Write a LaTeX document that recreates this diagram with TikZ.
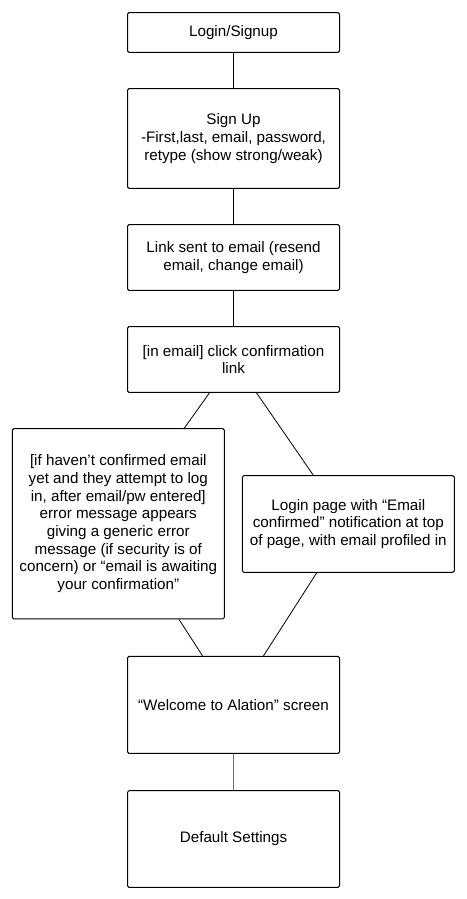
\documentclass[tikz,border=0pt]{standalone}
\usepackage{fontspec}
\setmainfont{Liberation Sans}
\usetikzlibrary{calc}
\begin{document}
\begin{tikzpicture}[x=1pt,y=-1pt,
  box/.style={draw=black, line width=1pt, rounded corners=1.5pt, align=center,
    minimum width=212pt, inner sep=0pt, font=\fontsize{15.2}{17.7}\selectfont},
  link/.style={draw=black, line width=0.8pt},
  glink/.style={draw=black!55, line width=1.4pt}]
\useasboundingbox (0,0) rectangle (466,899);
\node[box, minimum height=39.6pt] (n1) at (233.5,32.5) {Login/Signup};
\node[box, minimum height=99.6pt] (n2) at (233.5,138.5) {Sign Up\\-First,last, email, password,\\retype (show strong/weak)};
\node[box, minimum height=65.6pt] (n3) at (233.5,257.5) {Link sent to email (resend\\email, change email)};
\node[box, minimum height=65.6pt] (n4) at (233.5,359.5) {[in email] click confirmation\\link};
\node[box, minimum height=190.3pt] (n5) at (118.3,523.8) {[if haven’t confirmed email\\yet and they attempt to log\\in, after email/pw entered]\\error message appears\\giving a generic error\\message (if security is of\\concern) or “email is awaiting\\your confirmation”};
\node[box, minimum height=96.6pt] (n6) at (348.3,524) {Login page with “Email\\confirmed” notification at top\\of page, with email profiled in};
\node[box, minimum height=97pt] (n7) at (233.5,704.8) {“Welcome to Alation” screen};
\node[box, minimum height=96.6pt] (n8) at (233.5,839) {Default Settings};
\draw[link] (n1) -- (n2);
\draw[link] (n2) -- (n3);
\draw[link] (n3) -- (n4);
\draw[link] ([xshift=-24pt]n4.south) -- ([xshift=66pt]n5.north);
\draw[link] ([xshift=23pt]n4.south) -- ([xshift=-35pt]n6.north);
\draw[link] ([xshift=60.7pt]n5.south) -- ([xshift=-31pt]n7.north);
\draw[link] ([xshift=-31.6pt]n6.south) -- ([xshift=30pt]n7.north);
\draw[glink] (n7) -- (n8);
\end{tikzpicture}
\end{document}
